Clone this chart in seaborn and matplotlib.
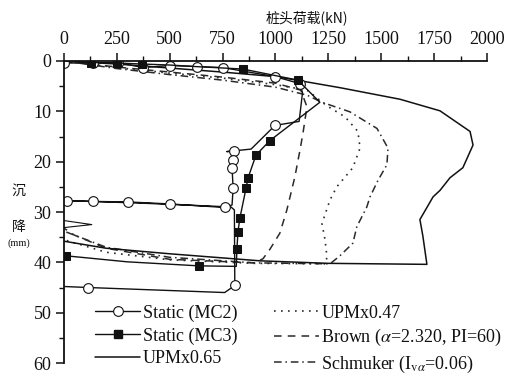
import matplotlib
matplotlib.use("Agg")
import matplotlib.pyplot as plt
from matplotlib.lines import Line2D
import pandas as pd
import seaborn as sns

# Static load test MC2 (open circles); flag 1 = measured point drawn with a marker
mc2_load = [0, 137, 255, 373, 501, 628, 750, 998, 1116, 1128, 1112, 998, 885, 770, 805,
            800, 795, 800, 795, 760, 501, 303, 137, 14, 0, 400, 790, 806, 808, 760, 113, 0]
mc2_settle = [0.4, 0.4, 0.3, 1.3, 0.9, 1.1, 1.3, 3.1, 4.5, 6.3, 12.0, 12.8, 17.5, 18.0, 17.9,
              19.6, 21.2, 25.3, 28.6, 29.1, 28.4, 28.0, 27.9, 27.8, 27.7, 28.3, 29.0, 29.6,
              44.6, 46.0, 45.0, 44.8]
mc2_mark = [1, 1, 1, 1, 1, 1, 1, 1, 1, 0, 0, 1, 0, 0, 1,
            1, 1, 1, 0, 1, 1, 1, 1, 1, 0, 0, 0, 0, 1, 0, 1, 0]

# Static load test MC3 (filled squares)
mc3_load = [0, 130, 250, 370, 500, 620, 846, 1106, 1210, 974, 908, 870, 861, 832, 823,
            818, 815, 638, 300, 9, 0]
mc3_settle = [0, 0.3, 0.4, 0.6, 0.8, 1.1, 1.6, 3.8, 8.2, 15.8, 18.7, 23.3, 25.3, 31.2, 33.9,
              37.3, 40.8, 40.7, 39.9, 38.7, 38.6]
mc3_mark = [0, 1, 1, 1, 0, 0, 1, 1, 0, 1, 1, 1, 1, 1, 1, 1, 0, 1, 0, 1, 0]

# UPM x 0.65 simulation
upm65_load = [0, 250, 500, 750, 1000, 1100, 1305, 1589, 1778, 1920, 1934, 1886, 1825, 1778,
              1745, 1683, 1697, 1716, 1250, 927, 500, 200, 0]
upm65_settle = [0, 0.6, 1.4, 2.2, 3.1, 3.8, 5.3, 7.6, 9.9, 14.0, 16.7, 21.2, 23.2, 25.7,
                27.0, 31.5, 34.8, 40.4, 40.2, 39.7, 38.3, 37.2, 35.8]
upm65_tail_load = [0, 132, 0]
upm65_tail_settle = [31.7, 32.5, 33.1]

# UPM x 0.47 simulation
upm47_load = [0, 250, 500, 750, 1000, 1150, 1243, 1329, 1390, 1400, 1366, 1290, 1258, 1220,
              1234, 1243, 1240, 900, 500, 200, 0]
upm47_settle = [0, 1.3, 2.4, 3.4, 4.7, 5.8, 8.9, 11.1, 14.0, 17.3, 21.2, 25.0, 27.6, 32.3,
                35.4, 38.7, 40.3, 40.2, 39.5, 38.0, 35.5]

# Brown (alpha=2.320, PI=60)
brown_load = [0, 250, 500, 750, 1000, 1120, 1149, 1130, 1116, 1092, 1054, 1021, 974, 941,
              900, 500, 200, 50, 0]
brown_settle = [0, 1.2, 2.2, 3.2, 4.4, 5.8, 9.1, 14.4, 17.7, 23.0, 29.6, 34.2, 37.4, 39.3,
                40.1, 39.4, 37.2, 34.6, 33.2]

# Schmuker (I_va=0.06)
schm_load = [0, 250, 500, 750, 1000, 1150, 1220, 1352, 1480, 1532, 1527, 1485, 1447, 1432,
             1385, 1366, 1305, 1258, 900, 500, 200, 0]
schm_settle = [0, 1.5, 2.7, 3.8, 5.2, 6.8, 8.2, 10.1, 13.4, 17.3, 20.6, 23.7, 27.0, 29.0,
               32.9, 36.2, 38.7, 40.3, 40.1, 39.0, 37.0, 33.8]

x_ticks = [0, 250, 500, 750, 1000, 1250, 1500, 1750, 2000]
y_ticks = [0, 10, 20, 30, 40, 50, 60]

sns.set_style("ticks")
plt.rcParams["font.family"] = ["Liberation Serif", "Noto Sans CJK SC"]
plt.rcParams["mathtext.fontset"] = "stix"

fig = plt.figure(figsize=(5.11, 3.74), dpi=100)
ax = fig.add_axes([0.125, 0.0294, 0.828, 0.8075])

ink = "#111111"
sim = "#2a2a2a"


def frame(x, y):
    return pd.DataFrame({"load": x, "settle": y})


def idx(flags):
    return [i for i, f in enumerate(flags) if f]


styles = {
    "upm47": dict(color=sim, lw=1.2, linestyle=(0, (1, 3.2))),
    "brown": dict(color=sim, lw=1.1, linestyle=(0, (5, 4))),
    "schm": dict(color=sim, lw=1.1, linestyle=(0, (5, 2.5, 1, 2.5))),
    "upm65": dict(color=ink, lw=1.1, linestyle="-"),
    "mc2": dict(color=ink, lw=1.0, linestyle="-", marker="o", markersize=7,
                markerfacecolor="white", markeredgecolor=ink, markeredgewidth=0.8),
    "mc3": dict(color=ink, lw=1.0, linestyle="-", marker="s", markersize=6.3,
                markerfacecolor=ink, markeredgecolor=ink),
}

sns.lineplot(data=frame(upm47_load, upm47_settle), x="load", y="settle", sort=False,
             estimator=None, ax=ax, **styles["upm47"])
sns.lineplot(data=frame(brown_load, brown_settle), x="load", y="settle", sort=False,
             estimator=None, ax=ax, **styles["brown"])
sns.lineplot(data=frame(schm_load, schm_settle), x="load", y="settle", sort=False,
             estimator=None, ax=ax, **styles["schm"])
sns.lineplot(data=frame(upm65_load, upm65_settle), x="load", y="settle", sort=False,
             estimator=None, ax=ax, **styles["upm65"])
sns.lineplot(data=frame(upm65_tail_load, upm65_tail_settle), x="load", y="settle",
             sort=False, estimator=None, ax=ax, color=ink, lw=0.8)
sns.lineplot(data=frame(mc2_load, mc2_settle), x="load", y="settle", sort=False,
             estimator=None, ax=ax, markevery=idx(mc2_mark), **styles["mc2"])
sns.lineplot(data=frame(mc3_load, mc3_settle), x="load", y="settle", sort=False,
             estimator=None, ax=ax, markevery=idx(mc3_mark), **styles["mc3"])

ax.set_xlim(0, 2000)
ax.set_ylim(60, 0)
ax.set_xticks(x_ticks)
ax.set_xticks([t + 125 for t in x_ticks[:-1]], minor=True)
ax.set_yticks(y_ticks)
ax.set_yticks([t + 5 for t in y_ticks[:-1]], minor=True)
ax.xaxis.tick_top()
ax.set_xlabel("")
ax.set_ylabel("")
for side in ("right", "bottom"):
    ax.spines[side].set_visible(False)
for side in ("left", "top"):
    ax.spines[side].set_linewidth(1.3)
    ax.spines[side].set_color(ink)
ax.tick_params(which="major", length=6, width=1.1, color=ink, labelsize=13, pad=3,
               labelcolor=ink)
ax.tick_params(which="minor", length=3.5, width=1.0, color=ink)
ax.tick_params(axis="x", which="both", top=True, bottom=False, labeltop=True,
               labelbottom=False)

fig.text(0.60, 0.952, "桩头荷载(kN)", ha="center", va="center", fontsize=10,
         family=["Noto Sans CJK SC"], color=ink)
fig.text(0.036, 0.49, "沉", ha="center", va="center", fontsize=10,
         family=["Noto Sans CJK SC"], color=ink)
fig.text(0.036, 0.392, "降", ha="center", va="center", fontsize=10,
         family=["Noto Sans CJK SC"], color=ink)
fig.text(0.036, 0.350, "(mm)", ha="center", va="center", fontsize=7.5, color=ink)

handles = [
    Line2D([], [], **styles["mc2"]),
    Line2D([], [], **styles["mc3"]),
    Line2D([], [], **styles["upm65"]),
    Line2D([], [], **styles["upm47"]),
    Line2D([], [], **styles["brown"]),
    Line2D([], [], **styles["schm"]),
]
labels = ["Static (MC2)", "Static (MC3)", "UPMx0.65", "UPMx0.47",
          r"Brown ($\alpha$=2.320, PI=60)", r"Schmuker (I$_{\mathrm{v}\alpha}$=0.06)"]
fig.legend(handles, labels, ncol=2, loc="lower left", bbox_to_anchor=(0.179, -0.012),
           frameon=False, fontsize=13, handlelength=2.5, handletextpad=0.15,
           labelspacing=0.3, columnspacing=2.0, numpoints=1, borderaxespad=0,
           borderpad=0.2, labelcolor=ink)

fig.savefig("out.png", dpi=100)
